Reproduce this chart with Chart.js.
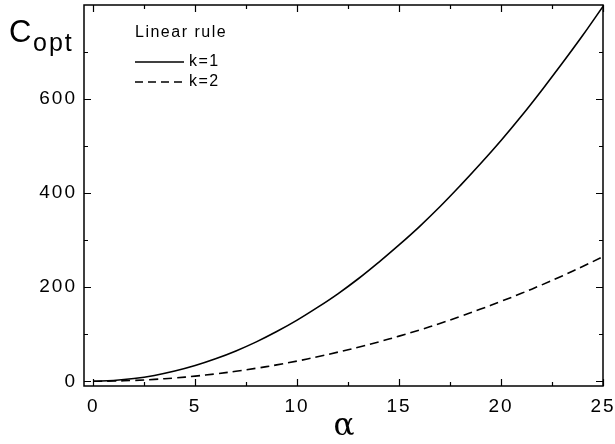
<!DOCTYPE html>
<html lang="en">
<head>
<meta charset="UTF-8" />
<title>C_opt vs alpha</title>
<script src="https://cdn.jsdelivr.net/npm/chart.js"></script>
<style>
    body { margin: 0; background: #fff; }
    #wrap { width: 615px; height: 444px; }
</style>
</head>
<body>
<div id="wrap"><canvas id="chart" width="615" height="444"></canvas></div>
<script>
// values
const alpha = [0, 1, 2, 3, 4, 5, 6, 7, 8, 9, 10, 11, 12, 13, 14, 15, 16, 17, 18, 19, 20, 21, 22, 23, 24, 25];
const coptK1 = [0, 1.7, 5.8, 12.5, 21.8, 33.5, 47.8, 64.5, 83.8, 105.7, 130, 157, 186, 218, 253, 290, 329, 371, 416, 463, 512, 564, 619, 676, 735, 797];
const coptK2 = [0, 0.5, 1.9, 4.1, 7.1, 11, 15.7, 21.3, 27.7, 34.9, 43, 52, 62, 72.3, 83.7, 96, 109, 123, 138, 153.5, 170, 187, 205, 224, 244, 265];
const xTicks = [0, 5, 10, 15, 20, 25];
const xMinor = [2.5, 7.5, 12.5, 17.5, 22.5];
const yTicks = [0, 200, 400, 600];
const yMinor = [100, 300, 500, 700];
const seriesLabels = ['k=1', 'k=2'];
const legendTitle = 'Linear rule';

const FONT = '"Liberation Sans", Arial, sans-serif';

// frame, inward ticks, legend and axis titles
const decor = {
    id: 'decor',
    beforeInit(chart) {
        chart.ctx.letterSpacing = '2px';
    },
    beforeDraw(chart) {
        chart.ctx.letterSpacing = '2px';
    },
    afterDraw(chart) {
        const ctx = chart.ctx;
        const { left, right, top, bottom } = chart.chartArea;
        const xs = chart.scales.x, ys = chart.scales.y;
        ctx.save();
        ctx.strokeStyle = '#000';
        ctx.lineWidth = 1.5;
        ctx.strokeRect(left, top, right - left, bottom - top);

        ctx.lineWidth = 1.2;
        ctx.beginPath();
        const tickX = (v, len) => {
            const px = Math.round(xs.getPixelForValue(v)) + 0.5;
            ctx.moveTo(px, bottom); ctx.lineTo(px, bottom - len);
            ctx.moveTo(px, top); ctx.lineTo(px, top + len);
        };
        const tickY = (v, len) => {
            const py = Math.round(ys.getPixelForValue(v)) + 0.5;
            ctx.moveTo(left, py); ctx.lineTo(left + len, py);
            ctx.moveTo(right, py); ctx.lineTo(right - len, py);
        };
        xTicks.forEach(v => tickX(v, 7));
        xMinor.forEach(v => tickX(v, 4));
        yTicks.forEach(v => tickY(v, 7));
        yMinor.forEach(v => tickY(v, 4));
        ctx.stroke();

        // legend
        ctx.fillStyle = '#000';
        ctx.letterSpacing = '1.5px';
        ctx.textBaseline = 'middle';
        ctx.textAlign = 'left';
        ctx.font = '16px ' + FONT;
        ctx.fillText(legendTitle, 135, 33);
        ctx.lineWidth = 1.5;
        ctx.beginPath();
        ctx.moveTo(135, 62); ctx.lineTo(184, 62);
        ctx.stroke();
        ctx.setLineDash([8, 5]);
        ctx.beginPath();
        ctx.moveTo(135, 82); ctx.lineTo(184, 82);
        ctx.stroke();
        ctx.setLineDash([]);
        ctx.fillText(seriesLabels[0], 189, 62);
        ctx.fillText(seriesLabels[1], 189, 82);

        // y title C_opt
        ctx.textBaseline = 'alphabetic';
        ctx.letterSpacing = '0px';
        ctx.font = '31px ' + FONT;
        ctx.fillText('C', 9, 42);
        ctx.font = '25px ' + FONT;
        ctx.letterSpacing = '2px';
        ctx.fillText('opt', 33, 51);

        // x title alpha
        ctx.letterSpacing = '0px';
        ctx.textAlign = 'center';
        ctx.font = '31px "DejaVu Serif", serif';
        ctx.fillText('\u03b1', 344, 435);
        ctx.restore();
    }
};

new Chart(document.getElementById('chart'), {
    type: 'line',
    data: {
        labels: alpha,
        datasets: [
            {
                label: seriesLabels[0],
                data: alpha.map((a, i) => ({ x: a, y: coptK1[i] })),
                borderColor: '#000',
                borderWidth: 1.6,
                pointRadius: 0,
                tension: 0.4,
                fill: false
            },
            {
                label: seriesLabels[1],
                data: alpha.map((a, i) => ({ x: a, y: coptK2[i] })),
                borderColor: '#000',
                borderWidth: 1.6,
                borderDash: [9, 5],
                pointRadius: 0,
                tension: 0.4,
                fill: false
            }
        ]
    },
    options: {
        responsive: false,
        animation: false,
        layout: { padding: { top: 5, right: 12, left: 0, bottom: 0 } },
        plugins: { legend: { display: false }, tooltip: { enabled: false } },
        scales: {
            x: {
                type: 'linear',
                min: -0.45,
                max: 25,
                afterBuildTicks: s => { s.ticks = xTicks.map(v => ({ value: v })); },
                afterFit: s => { s.height = 58; s.paddingLeft = 0; s.paddingRight = 0; },
                grid: { display: false, drawTicks: false },
                border: { display: false },
                ticks: { color: '#000', padding: 9, font: { family: FONT, size: 19 }, maxRotation: 0 }
            },
            y: {
                min: -10,
                max: 800,
                afterBuildTicks: s => { s.ticks = yTicks.map(v => ({ value: v })); },
                afterFit: s => { s.width = 84; s.paddingTop = 0; s.paddingBottom = 0; },
                grid: { display: false, drawTicks: false },
                border: { display: false },
                ticks: { color: '#000', padding: 7, font: { family: FONT, size: 19 } }
            }
        }
    },
    plugins: [decor]
});
</script>
</body>
</html>
